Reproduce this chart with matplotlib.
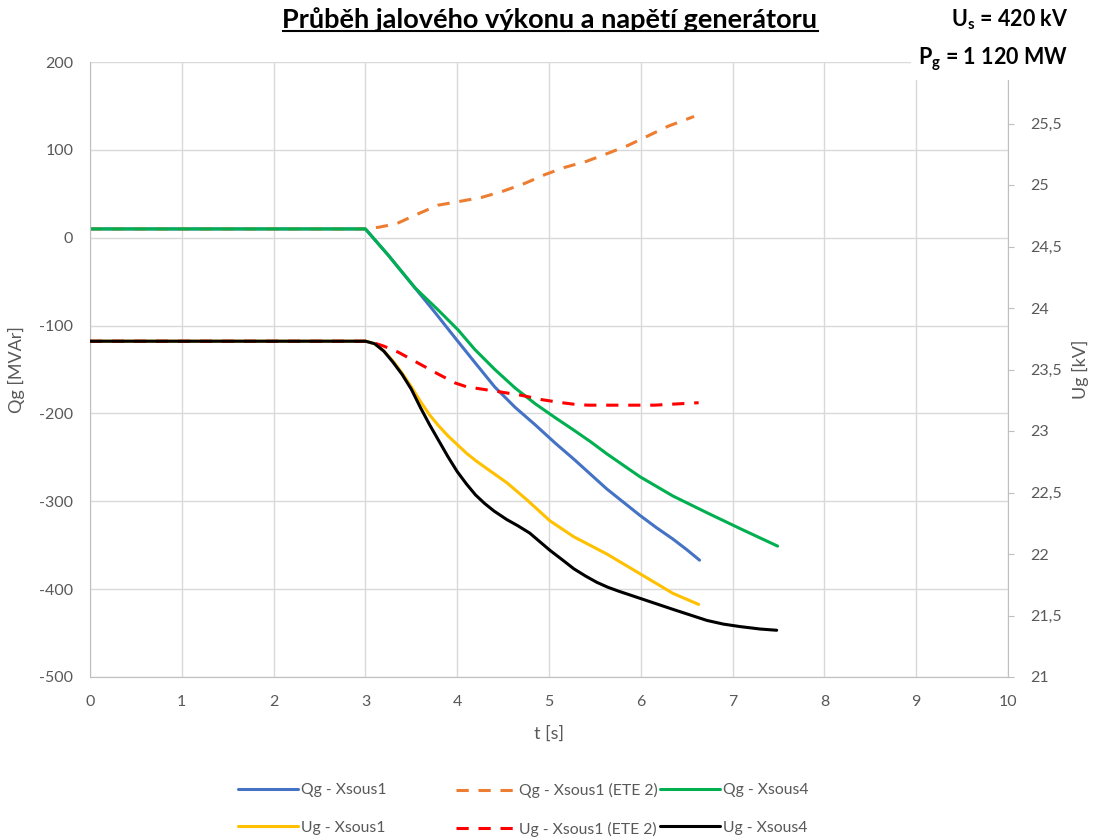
import matplotlib
matplotlib.use("Agg")
import matplotlib.pyplot as plt
from matplotlib.lines import Line2D
from matplotlib.ticker import FuncFormatter

plt.rcParams['font.family'] = ['Lato', 'DejaVu Sans']
plt.rcParams['axes.unicode_minus'] = False

# ---------------- data ----------------
title = "Průběh jalového výkonu a napětí generátoru"

# Qg - Xsous1 (blue)
t_qg1 = [0, 3.0, 3.25, 3.5, 3.75, 4.0, 4.2, 4.41, 4.63, 4.85, 5.07, 5.27, 5.45, 5.63, 5.81, 5.99, 6.17, 6.35, 6.5, 6.64]
q_qg1 = [10, 10, -20, -52, -84, -117, -143, -170, -193, -213, -234, -252, -269, -286, -301, -316, -330, -343, -355, -367]

# Qg - Xsous1 (ETE 2) (orange dashed)
t_qg1e = [0, 3.0, 3.15, 3.34, 3.57, 3.79, 4.01, 4.27, 4.5, 4.74, 4.96, 5.17, 5.41, 5.64, 5.86, 6.08, 6.3, 6.58]
q_qg1e = [10, 10, 12, 16, 27, 37, 41, 46, 53, 62, 72, 80, 87, 96, 105, 116, 127, 138]

# Qg - Xsous4 (green)
t_qg4 = [0, 3.0, 3.25, 3.54, 3.79, 4.01, 4.19, 4.41, 4.63, 4.85, 5.07, 5.27, 5.45, 5.63, 5.81, 5.99, 6.35, 6.72, 7.08, 7.49]
q_qg4 = [10, 10, -20, -57, -82, -105, -127, -150, -171, -189, -205, -219, -232, -246, -259, -272, -294, -313, -331, -351]

# Ug - Xsous1 (yellow)
t_ug1 = [0, 3.0, 3.1, 3.2, 3.3, 3.4, 3.5, 3.6, 3.7, 3.8, 3.9, 4.0, 4.1, 4.2, 4.35, 4.54, 4.76, 5.01, 5.27, 5.45, 5.63, 5.99, 6.35, 6.63]
u_ug1 = [23.73, 23.73, 23.71, 23.65, 23.57, 23.47, 23.36, 23.24, 23.13, 23.04, 22.96, 22.89, 22.82, 22.76, 22.68, 22.58, 22.44, 22.27, 22.14, 22.07, 22.0, 21.84, 21.68, 21.59]

# Ug - Xsous1 (ETE 2) (red dashed)
t_ug1e = [0, 3.0, 3.1, 3.2, 3.36, 3.58, 3.8, 3.98, 4.1, 4.23, 4.45, 4.7, 4.92, 5.14, 5.3, 5.43, 5.79, 6.15, 6.63]
u_ug1e = [23.73, 23.73, 23.715, 23.69, 23.64, 23.55, 23.46, 23.39, 23.36, 23.345, 23.32, 23.29, 23.255, 23.23, 23.215, 23.21, 23.21, 23.21, 23.23]

# Ug - Xsous4 (black)
t_ug4 = [0, 3.0, 3.1, 3.2, 3.3, 3.4, 3.5, 3.6, 3.7, 3.8, 3.9, 4.0, 4.1, 4.2, 4.3, 4.4, 4.54, 4.66, 4.79, 4.9, 5.01, 5.15, 5.27, 5.4, 5.52, 5.64, 5.75, 5.99, 6.35, 6.72, 6.9, 7.08, 7.3, 7.48]
u_ug4 = [23.73, 23.73, 23.71, 23.65, 23.56, 23.46, 23.34, 23.19, 23.05, 22.92, 22.79, 22.67, 22.57, 22.48, 22.41, 22.35, 22.28, 22.23, 22.17, 22.1, 22.03, 21.95, 21.88, 21.82, 21.77, 21.73, 21.7, 21.64, 21.55, 21.46, 21.43, 21.41, 21.39, 21.38]

labels = ["Qg - Xsous1", "Qg - Xsous1 (ETE 2)", "Qg - Xsous4",
          "Ug - Xsous1", "Ug - Xsous1 (ETE 2)", "Ug - Xsous4"]

x_ticks = list(range(0, 11))
q_ticks = list(range(-500, 201, 100))
u_ticks = [21, 21.5, 22, 22.5, 23, 23.5, 24, 24.5, 25, 25.5]

# ---------------- figure ----------------
W, H = 1094, 839
fig = plt.figure(figsize=(W / 100, H / 100), dpi=100)
ax = fig.add_axes([90 / W, 1 - 677 / H, (1008 - 90) / W, (677 - 62) / H])
ax2 = ax.twinx()

grid_c = "#d9d9d9"
tick_c = "#595959"
lw = 2.2

ax.set_xlim(0, 10)
ax.set_ylim(-500, 200)
ax2.set_ylim(21, 26)
ax.set_xticks(x_ticks)
ax.set_yticks(q_ticks)
ax2.set_yticks(u_ticks)
ax2.yaxis.set_major_formatter(FuncFormatter(lambda v, p: (f"{v:g}").replace(".", ",")))

ax.grid(True, color=grid_c, lw=1.0)
ax.set_axisbelow(True)
for s in ["top", "right"]:
    ax.spines[s].set_visible(False)
for s in ["top", "left", "bottom"]:
    ax2.spines[s].set_visible(False)
ax.spines["left"].set_color("#bfbfbf")
ax.spines["bottom"].set_color("#bfbfbf")
ax2.spines["right"].set_color("#bfbfbf")
ax.tick_params(axis="y", length=0, labelsize=11.5, colors=tick_c, pad=12)
ax.tick_params(axis="x", length=0, labelsize=11.5, colors=tick_c, pad=13)
ax2.tick_params(axis="y", length=4, color="#bfbfbf", labelsize=11.5, labelcolor=tick_c, pad=12)

kw = dict(lw=lw, solid_capstyle="round", solid_joinstyle="round")
l1, = ax.plot(t_qg1, q_qg1, color="#4472C4", **kw)
l2, = ax.plot(t_qg1e, q_qg1e, color="#ED7D31", lw=lw, dashes=(4, 3.2), dash_joinstyle="round")
l3, = ax.plot(t_qg4, q_qg4, color="#00B050", **kw)
l4, = ax2.plot(t_ug1, u_ug1, color="#FFC000", **kw)
l5, = ax2.plot(t_ug1e, u_ug1e, color="#FF0000", lw=lw, dashes=(4, 3.2), dash_joinstyle="round")
l6, = ax2.plot(t_ug4, u_ug4, color="#000000", **kw)

ax.set_ylabel("Qg [MVAr]", fontsize=13, color=tick_c)
ax2.set_ylabel("Ug [kV]", fontsize=13, color=tick_c)
ax.set_xlabel("t [s]", fontsize=13, color=tick_c)
ax.yaxis.set_label_coords((25 - 90) / 918, 0.50)
ax2.yaxis.set_label_coords((1072 - 90) / 918, 0.50)
ax.xaxis.set_label_coords(0.5, (677 - 726) / 615)

# legend: three separate columns to match column positions
cols = [([l1, l4], [labels[0], labels[3]], 238),
        ([l2, l5], [labels[1], labels[4]], 456),
        ([l3, l6], [labels[2], labels[5]], 660)]
for hs, ls, x0 in cols:
    fig.legend(hs, ls, loc="upper left", bbox_to_anchor=(x0 / W, 1 - 783 / H),
               frameon=False, fontsize=11.3, handlelength=3.85, handletextpad=0.15,
               labelspacing=1.5, labelcolor=tick_c, borderpad=0, borderaxespad=0)

# title with underline
tt = fig.text(550 / W, 1 - 20 / H, title, ha="center", va="center", fontsize=19.5,
              fontweight="bold", color="#000000")
fig.canvas.draw()
bb = tt.get_window_extent(renderer=fig.canvas.get_renderer())
y_ul = (bb.y0 + 1) / H
fig.add_artist(Line2D([bb.x0 / W, bb.x1 / W], [y_ul, y_ul], color="black", lw=1.5,
                      transform=fig.transFigure))

fig.text(1068 / W, 1 - 20 / H, r"U$_\mathregular{s}$ = 420 kV", ha="right", va="center",
         fontsize=15.5, fontweight="bold")
fig.text(1068 / W, 1 - 59 / H, r"P$_\mathregular{g}$ = 1 120 MW", ha="right", va="center",
         fontsize=15.5, fontweight="bold",
         bbox=dict(facecolor="white", edgecolor="none", pad=5))

fig.savefig("out.png", dpi=100)
